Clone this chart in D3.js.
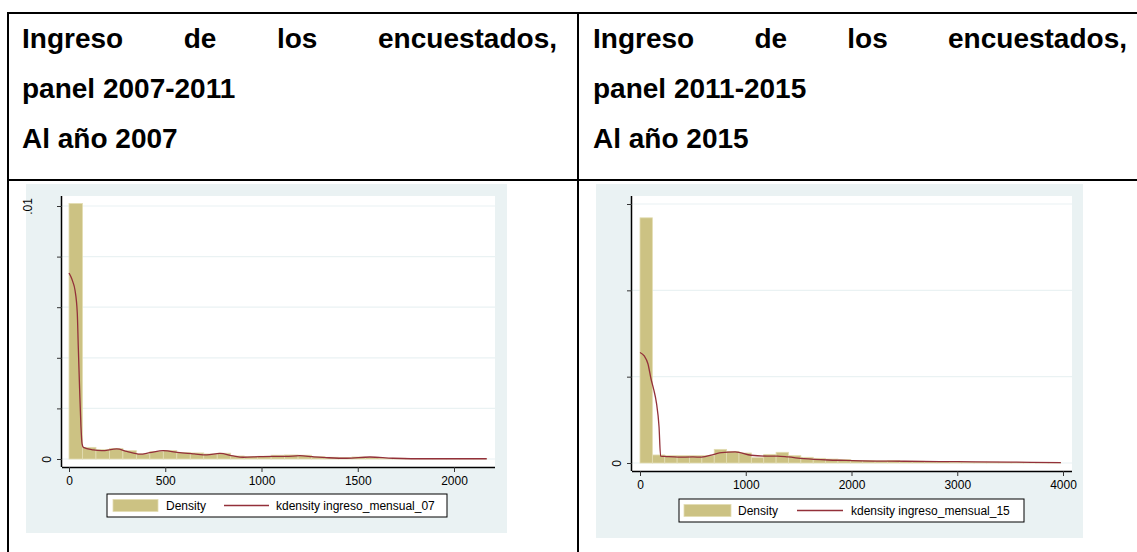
<!DOCTYPE html>
<html>
<head>
<meta charset="utf-8">
<script src="https://cdn.jsdelivr.net/npm/d3@7"></script>
<style>
  body { margin: 0; background: #fff; }
  text { font-family: "Liberation Sans", Arial, sans-serif; }
</style>
</head>
<body>
<div id="vis"></div>
<script>
// header texts of the two columns
const title07 = ['Ingreso de los encuestados,', 'panel 2007-2011', 'Al año 2007'];
const title15 = ['Ingreso de los encuestados,', 'panel 2011-2015', 'Al año 2015'];

// histogram 2007: bin width and density of each bin
const binWidth07 = 70;
const density07 = [0.0101, 0.00046, 0.00037, 0.00042, 0.00033, 0.0002, 0.0003, 0.00034,
  0.00026, 0.00024, 0.0002, 0.00023, 0.00012, 0.0001, 0.00011, 0.00015, 0.00016, 0.00015,
  0.00009, 0.00007, 0.00006, 0.00008, 0.00007, 0.00003, 0.00003, 0.00002, 0.00002,
  0.00001, 0.00002, 0.00001, 0.00001];
// kernel density 2007
const kdX07 = [0, 10, 20, 31, 43, 48, 55, 62, 68, 75, 125, 170, 248, 300, 369, 420, 490, 576,
  650, 716, 784, 853, 905, 992, 1060, 1126, 1199, 1267, 1350, 1443, 1563, 1683, 1874, 2000, 2170];
const kdY07 = [0.00735, 0.0072, 0.007, 0.00668, 0.00577, 0.0045, 0.0028, 0.0013, 0.0006,
  0.00046, 0.00036, 0.00033, 0.0004, 0.0003, 0.00019, 0.00025, 0.00033, 0.00025, 0.0002,
  0.00016, 0.00022, 0.00012, 0.00007, 0.00009, 0.0001, 0.0001, 0.00013, 0.00009, 0.00005,
  0.00003, 0.00008, 0.00003, 0.00001, 0.00001, 0.00001];

// histogram 2015
const binWidth15 = 117;
const density15 = [0.00568, 0.000186, 0.00017, 0.00017, 0.00017, 0.00017, 0.000316, 0.00027,
  0.000232, 0.000124, 0.0002, 0.000248, 0.00017, 0.000132, 0.000108, 0.000092, 0.00008,
  0.00006, 0.00006, 0.00005, 0.00006, 0.00004, 0.00004, 0.00003, 0.00003, 0.00002, 0.00002,
  0.00002, 0.00002, 0.000016, 0.000016, 0.00001, 0.00001, 0.00001];
// kernel density 2015
const kdX15 = [0, 40, 75, 105, 130, 155, 180, 195, 250, 360, 500, 580, 700, 770, 900, 1050,
  1200, 1300, 1400, 1550, 1780, 1950, 2100, 2500, 3000, 3500, 3980];
const kdY15 = [0.00256, 0.00248, 0.0023, 0.00194, 0.0017, 0.0014, 0.00084, 0.00016, 0.00015,
  0.000136, 0.00014, 0.000136, 0.0002, 0.00024, 0.00026, 0.00018, 0.00016, 0.00016, 0.00014,
  0.0001, 0.00007, 0.00006, 0.00005, 0.00004, 0.00003, 0.00002, 0.00001];

// axis ticks and labels
const xTicks07 = [0, 500, 1000, 1500, 2000];
const yTicks07 = [0, 0.002, 0.004, 0.006, 0.008, 0.01];
const yLabels07 = ['0', '', '', '', '', '.01'];
const xTicks15 = [0, 1000, 2000, 3000, 4000];
const yTicks15 = [0, 0.002, 0.004, 0.006];
const yLabels15 = ['0', '', '', ''];

const legendBar = 'Density';
const legendLine07 = 'kdensity ingreso_mensual_07';
const legendLine15 = 'kdensity ingreso_mensual_15';

const W = 1137, H = 552;
const svg = d3.select('#vis').append('svg')
  .attr('width', W).attr('height', H);

// ---- table (Word document layout) ----
const tbl = svg.append('g').attr('stroke', '#000').attr('stroke-width', 2);
tbl.append('line').attr('x1', 7).attr('x2', W).attr('y1', 13).attr('y2', 13);
tbl.append('line').attr('x1', 7).attr('x2', W).attr('y1', 180).attr('y2', 180);
tbl.append('line').attr('x1', 8).attr('x2', 8).attr('y1', 12).attr('y2', H);
tbl.append('line').attr('x1', 578).attr('x2', 578).attr('y1', 12).attr('y2', H);

// header, first line justified over the cell width
function header(lines, x0, x1) {
  const g = svg.append('g')
    .style('font-size', '28px').style('font-weight', 'bold').attr('fill', '#000');
  lines.forEach((line, i) => {
    const y = 48 + i * 50;
    if (i > 0) {
      g.append('text').attr('x', x0).attr('y', y).text(line);
      return;
    }
    const words = line.split(' ');
    const nodes = words.map(w => g.append('text').attr('y', y).text(w));
    const widths = nodes.map(n => n.node().getComputedTextLength());
    const gap = (x1 - x0 - d3.sum(widths)) / (words.length - 1);
    let x = x0;
    nodes.forEach((n, j) => { n.attr('x', x); x += widths[j] + gap; });
  });
}
header(title07, 22, 557);
header(title15, 593, 1127);

// ---- a Stata style histogram + kdensity panel ----
function panel(p) {
  const g = svg.append('g');
  const x = d3.scaleLinear().domain(p.xDomain).range(p.xRange);
  const y = d3.scaleLinear().domain(p.yDomain).range(p.yRange);

  g.append('rect').attr('x', p.bg[0]).attr('y', p.bg[1])
    .attr('width', p.bg[2] - p.bg[0]).attr('height', p.bg[3] - p.bg[1])
    .attr('fill', '#eaf2f3');
  g.append('rect').attr('x', p.plot[0]).attr('y', p.plot[1])
    .attr('width', p.plot[2] - p.plot[0]).attr('height', p.plot[3] - p.plot[1])
    .attr('fill', '#fff');

  // grid lines
  g.append('g').selectAll('line').data(p.yTicks).enter().append('line')
    .attr('x1', p.plot[0]).attr('x2', p.plot[2])
    .attr('y1', d => y(d)).attr('y2', d => y(d))
    .attr('stroke', '#eaf2f3').attr('stroke-width', 1.2);

  // histogram bars
  g.append('g').selectAll('rect').data(p.density).enter().append('rect')
    .attr('x', (d, i) => x(i * p.binWidth))
    .attr('width', (d, i) => x((i + 1) * p.binWidth) - x(i * p.binWidth))
    .attr('y', d => y(d))
    .attr('height', d => y(0) - y(d))
    .attr('fill', '#ccc283')
    .attr('stroke', '#e3dcb2').attr('stroke-width', 0.8);

  // kernel density
  const pts = p.kdX.map((v, i) => [v, p.kdY[i]]);
  g.append('path').datum(pts)
    .attr('d', d3.line().x(d => x(d[0])).y(d => y(d[1])).curve(d3.curveMonotoneX))
    .attr('fill', 'none').attr('stroke', '#93303a').attr('stroke-width', 1.3);

  // axes
  const xAxis = d3.axisBottom(x).tickValues(p.xTicks).tickSize(5).tickPadding(4)
    .tickFormat(d3.format('d'));
  const gx = g.append('g').attr('transform', `translate(0,${p.plot[3]})`).call(xAxis);
  gx.select('.domain').attr('d', `M${p.plot[0]},0.5H${p.plot[2]}`).attr('stroke-width', 1.5);
  gx.selectAll('.tick line').attr('stroke', '#333');
  gx.selectAll('text').style('font-size', '12px').attr('fill', '#000')
    .style('font-family', '"Liberation Sans", Arial, sans-serif');

  const yAxis = d3.axisLeft(y).tickValues(p.yTicks).tickSize(5)
    .tickFormat((d, i) => p.yLabels[i]);
  const gy = g.append('g').attr('transform', `translate(${p.plot[0]},0)`).call(yAxis);
  gy.select('.domain').attr('d', `M-0.5,${p.plot[1]}V${p.plot[3]}`).attr('stroke-width', 1.5);
  gy.selectAll('.tick line').attr('stroke', '#333');
  gy.selectAll('text')
    .style('font-size', '12px').attr('fill', '#000')
    .style('font-family', '"Liberation Sans", Arial, sans-serif')
    .attr('text-anchor', 'middle').attr('dy', null)
    .attr('x', null)
    .attr('transform', (d, i) => `translate(${p.yLabels[i].length > 1 ? -30 : -11},0) rotate(-90)`);

  // legend
  const L = p.legend;
  const lg = g.append('g').style('font-size', '12px');
  lg.append('rect').attr('x', L.box[0]).attr('y', L.box[1])
    .attr('width', L.box[2] - L.box[0]).attr('height', L.box[3] - L.box[1])
    .attr('fill', '#fff').attr('stroke', '#000').attr('stroke-width', 1);
  const cy = (L.box[1] + L.box[3]) / 2;
  lg.append('rect').attr('x', L.swatch[0]).attr('y', cy - 6)
    .attr('width', L.swatch[1] - L.swatch[0]).attr('height', 12)
    .attr('fill', '#ccc283').attr('stroke', '#e3dcb2').attr('stroke-width', 0.8);
  lg.append('text').attr('x', L.text1).attr('y', cy + 4).text(legendBar);
  lg.append('line').attr('x1', L.line[0]).attr('x2', L.line[1])
    .attr('y1', cy).attr('y2', cy)
    .attr('stroke', '#93303a').attr('stroke-width', 1.3);
  lg.append('text').attr('x', L.text2).attr('y', cy + 4).text(p.legendLine);
}

panel({
  bg: [26, 184, 507, 533], plot: [62, 196, 495, 467],
  xDomain: [0, 2000], xRange: [69, 454],
  yDomain: [0, 0.01], yRange: [459, 206],
  xTicks: xTicks07, yTicks: yTicks07, yLabels: yLabels07,
  binWidth: binWidth07, density: density07, kdX: kdX07, kdY: kdY07,
  legendLine: legendLine07,
  legend: { box: [107, 494, 447, 517], swatch: [113, 158], text1: 166, line: [224, 269], text2: 276 }
});

panel({
  bg: [596, 184, 1083, 538], plot: [632, 196, 1072, 471],
  xDomain: [0, 4000], xRange: [640, 1063],
  yDomain: [0, 0.006], yRange: [463, 204],
  xTicks: xTicks15, yTicks: yTicks15, yLabels: yLabels15,
  binWidth: binWidth15, density: density15, kdX: kdX15, kdY: kdY15,
  legendLine: legendLine15,
  legend: { box: [679, 499, 1024, 522], swatch: [684, 731], text1: 738, line: [797, 843], text2: 851 }
});
</script>
</body>
</html>
